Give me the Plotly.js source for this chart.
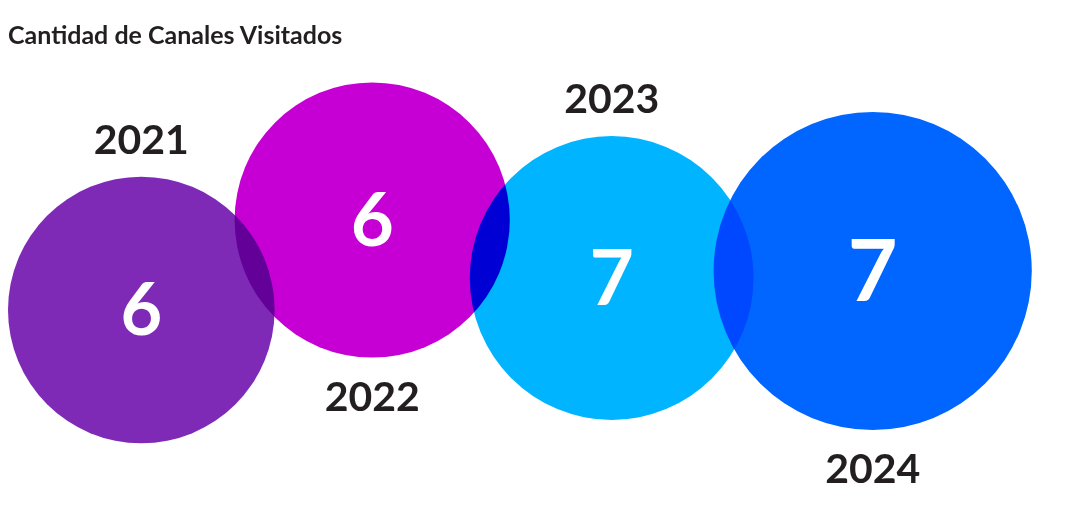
<!DOCTYPE html>
<html>
<head>
<meta charset="utf-8">
<script src="https://cdn.plot.ly/plotly-3.0.1.min.js"></script>
<style>
  html, body { margin: 0; padding: 0; background: #ffffff; }
  #grafico { width: 1072px; height: 526px; }
</style>
</head>
<body>
<div id="grafico"></div>
<script>
// Promedio de canales visitados por año
const anios = ['2021', '2022', '2023', '2024'];
const canales = [6.2, 6.4, 6.6, 7.4];

// ---- estilo y colocación ----
const ANCHO = 1072, ALTO = 526;
const PX_POR_CANAL = 43;      // diámetro de la burbuja por canal
const SOLAPE = 40;            // cuánto se pisan burbujas vecinas
const MARGEN_IZQ = 8;
const centroY = [310, 220, 278, 271];
const coloresBurbuja = ['#7e2ab6', '#c600d4', '#00b4ff', '#0066ff'];
const SEPARACION_ETIQUETA = 38;
const AJUSTE_DIGITOS = 5;     // los dígitos quedan altos respecto al centro de la caja
const TINTA = '#231f20';
const FUENTE = 'Lato, "Open Sans", sans-serif';

const diametros = canales.map(v => v * PX_POR_CANAL);
const radios = diametros.map(d => d / 2);
const centroX = [];
radios.forEach((r, i) => {
  if (i === 0) centroX.push(MARGEN_IZQ + r);
  else centroX.push(centroX[i - 1] + radios[i - 1] + r - SOLAPE);
});

// años alternan arriba / abajo de cada burbuja
const etiquetaY = centroY.map((cy, i) =>
  (i % 2 === 0 ? cy - radios[i] - SEPARACION_ETIQUETA : cy + radios[i] + SEPARACION_ETIQUETA) + AJUSTE_DIGITOS);

const burbujas = {
  type: 'scatter',
  mode: 'markers',
  x: centroX,
  y: centroY,
  marker: {
    size: diametros,
    sizemode: 'diameter',
    sizeref: 1,
    color: coloresBurbuja,
    opacity: 1,
    line: { width: 0 }
  },
  hoverinfo: 'skip',
  cliponaxis: false
};

const numeros = {
  type: 'scatter',
  mode: 'text',
  x: centroX,
  y: centroY.map((cy, i) => cy + diametros[i] * 0.028),
  text: canales.map(v => String(Math.round(v))),
  textposition: 'middle center',
  textfont: { family: FUENTE, color: '#ffffff', size: diametros.map(d => d * 0.27), weight: 700 },
  hoverinfo: 'skip',
  cliponaxis: false
};

const etiquetas = {
  type: 'scatter',
  mode: 'text',
  x: centroX,
  y: etiquetaY,
  text: anios,
  textposition: 'middle center',
  textfont: { family: FUENTE, color: TINTA, size: 41, weight: 700 },
  hoverinfo: 'skip',
  cliponaxis: false
};

const layout = {
  width: ANCHO,
  height: ALTO,
  margin: { l: 0, r: 0, t: 0, b: 0 },
  paper_bgcolor: '#ffffff',
  plot_bgcolor: '#ffffff',
  showlegend: false,
  title: {
    text: 'Cantidad de Canales Visitados',
    x: 8 / ANCHO, xanchor: 'left', xref: 'paper',
    y: 1 - 35 / ALTO, yanchor: 'middle', yref: 'container',
    font: { family: FUENTE, size: 25, color: TINTA, weight: 700 }
  },
  xaxis: { range: [0, ANCHO], visible: false, fixedrange: true },
  yaxis: { range: [ALTO, 0], visible: false, fixedrange: true }
};

Plotly.newPlot('grafico', [burbujas, numeros, etiquetas], layout, { displayModeBar: false, staticPlot: true })
  .then(gd => {
    // las burbujas se mezclan multiplicando color donde se solapan
    gd.querySelectorAll('.scatterlayer .trace:first-child path.point').forEach(p => {
      p.style.mixBlendMode = 'multiply';
    });
  });
</script>
</body>
</html>
